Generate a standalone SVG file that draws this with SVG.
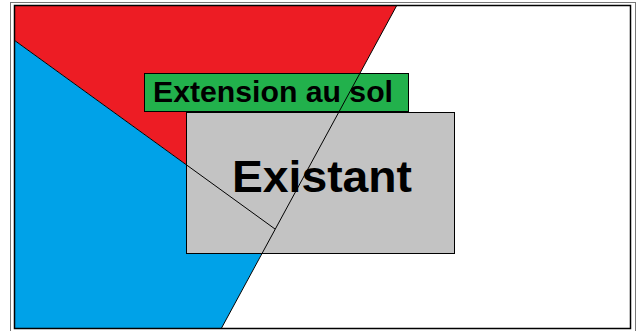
<svg xmlns="http://www.w3.org/2000/svg" width="639" height="331" viewBox="0 0 639 331">
<style>
.edge{stroke:#000;stroke-width:1;fill:none}
.box{stroke:#000;stroke-width:1}
.lbl{font-family:"Liberation Sans",Arial,sans-serif;font-weight:bold;fill:#000}
</style>
<rect x="0" y="0" width="639" height="331" fill="#fff"/>
<rect x="10.5" y="2.5" width="625" height="340" fill="none" stroke="#777" stroke-width="1"/>
<g id="zone-rouge"><polygon points="14,5 397,5 275,229 14,40" fill="#ED1C24"/></g>
<g id="zone-bleue"><polygon points="14,40 275,229 221,329 14,329" fill="#00A2E8"/></g>
<g id="existant">
<rect class="box" x="186.5" y="112.5" width="268" height="141" fill="#C3C3C3"/>
<text class="lbl" x="232" y="192" font-size="45" textLength="180" lengthAdjust="spacingAndGlyphs">Existant</text>
</g>
<g id="extension">
<rect class="box" x="144.5" y="73.5" width="264" height="38" fill="#22B14C"/>
<text class="lbl" x="153" y="102" font-size="30" textLength="240" lengthAdjust="spacingAndGlyphs">Extension au sol</text>
</g>
<g id="connectors">
<line class="edge" x1="14" y1="40" x2="275" y2="229"/>
<line class="edge" x1="397" y1="5" x2="221" y2="329"/>
</g>
<rect x="14.5" y="5.5" width="616" height="323" fill="none" stroke="#000" stroke-width="1.5"/>
</svg>
